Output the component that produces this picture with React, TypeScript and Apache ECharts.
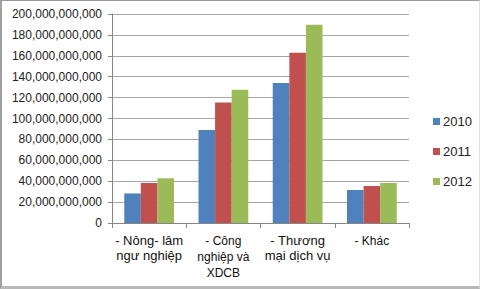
import React, { useEffect, useRef } from "react";
import * as echarts from "echarts";

const categories = ["- Nông- lâm\nngư nghiệp", "- Công\nnghiệp và\nXDCB", "- Thương\nmại dịch vụ", "- Khác"];
const years = ["2010", "2011", "2012"];
const values2010 = [28300000000, 89000000000, 134000000000, 31600000000];
const values2011 = [38300000000, 115300000000, 163000000000, 35400000000];
const values2012 = [42800000000, 127500000000, 189700000000, 38300000000];
const colors = ["#4F81BD", "#C0504D", "#9BBB59"];

export default function App() {
  const ref = useRef<HTMLDivElement>(null);
  useEffect(() => {
    const chart = echarts.init(ref.current!, null, { renderer: "svg" });
    const seriesData = [values2010, values2011, values2012];
    chart.setOption({
      animation: false,
      backgroundColor: "#ffffff",
      textStyle: { fontFamily: "Liberation Sans" },
      grid: { left: 112, right: 71, top: 14, bottom: 66, containLabel: false },
      legend: {
        orient: "vertical",
        left: 428,
        top: 110,
        itemWidth: 7,
        itemHeight: 7,
        itemGap: 17,
        icon: "rect",
        data: years,
        textStyle: { fontSize: 13, color: "#222", padding: [0, 0, 0, -2] },
      },
      xAxis: {
        type: "category",
        data: categories,
        axisLine: { lineStyle: { color: "#868686" } },
        axisTick: { show: true, alignWithLabel: false, length: 5, lineStyle: { color: "#868686" } },
        axisLabel: {
          interval: 0,
          margin: 10,
          formatter: (value: string, idx: number) => {
            const key = idx % 2 === 0 ? "b" : "s";
            return value.split("\n").map((l) => `{${key}|${l}}`).join("\n");
          },
          rich: {
            b: { fontSize: 13, lineHeight: 15, color: "#111", fontFamily: "Liberation Sans" },
            s: { fontSize: 12, lineHeight: 16, color: "#111", fontFamily: "Liberation Sans" },
          },
        },
      },
      yAxis: {
        type: "value",
        min: 0,
        max: 200000000000,
        interval: 20000000000,
        axisLine: { show: true, lineStyle: { color: "#868686" } },
        axisTick: { show: true, length: 4, lineStyle: { color: "#868686" } },
        splitLine: { lineStyle: { color: "#a6a6a6" } },
        axisLabel: {
          fontSize: 12,
          color: "#222",
          margin: 10,
          formatter: (v: number) => v.toLocaleString("en-US"),
        },
      },
      series: years.map((y, i) => ({
        name: y,
        type: "bar",
        data: seriesData[i],
        barGap: "0%",
        barCategoryGap: "33%",
        itemStyle: { color: colors[i] },
      })),
    });
    return () => chart.dispose();
  }, []);
  return (
    <div
      style={{
        position: "absolute",
        left: 0,
        top: 0,
        width: 480,
        height: 289,
        boxSizing: "border-box",
        borderTop: "1px solid #9a9a9a",
        borderLeft: "2px solid #a0a0a0",
        borderBottom: "3px solid #b8b8b8",
        borderRight: "1px solid #e0e0e0",
        overflow: "hidden",
        background: "#fff",
      }}
    >
      <div ref={ref} style={{ position: "absolute", left: -2, top: -1, width: 480, height: 289 }} />
    </div>
  );
}
